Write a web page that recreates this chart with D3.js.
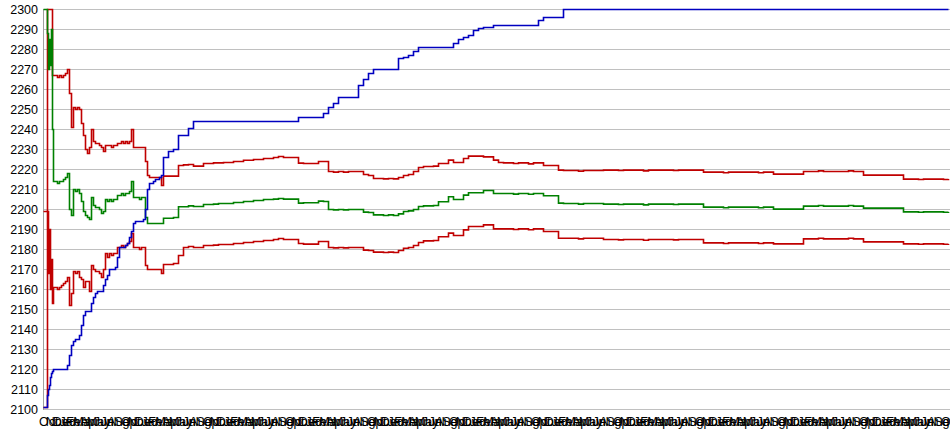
<!DOCTYPE html>
<html><head><meta charset="utf-8">
<script src="https://cdn.jsdelivr.net/npm/d3@7"></script>
<style>body{margin:0;background:#fff}svg{display:block}text{font-family:"Liberation Sans",Arial,sans-serif}</style>
</head><body><svg id="c" width="950" height="435"></svg>
<script>
// day index of each sample
const days = [0,4,5,6,7,8,9].concat(d3.range(10,120,2), d3.range(120,906,5));

const blue = [
2101,2107,2110,2112,2116,2118,2119,
2120,2120,2120,2120,2120,2120,2120,2122,2127,2132,2134,2135,2135,2137,2142,2147,2149,2149,2149,2153,2156,2158,2159,2159,2159,2162,2165,2167,2170,2170,2170,2171,2176,2181,2181,2181,2182,2183,2186,2189,2193,2194,2194,2194,2194,2195,2200,2210,2213,2213,2214,2215,2215,2216,2217,
2226,2229,2230,2237,2237,2240.5,2244,2244,2244,2244,
2244,2244,2244,2244,2244,2244,2244,2244,2244,2244,2244,2244,2244,2244,2244,2244,2244,
2246,2246,2246,2246,2246,
2248,2251,2253,2256,2256,2256,2256,2262,2265,2268,
2270,2270,2270,2270,2270,
2275.5,2276,2277,2279,
2281,2281,2281,2281,2281,2281,2281,
2283,2285,2286,2287,2289.5,2290.5,2291,2291,
2292,2292,2292,2292,2292,2292,2292,2292,2292,
2294.5,2296,2296,2296,2296,
2300,2300,2300,2300,2300,2300,2300,2300,2300,2300,2300,2300,2300,2300,2300,2300,2300,2300,2300,2300,
2300,2300,2300,2300,2300,2300,2300,2300,2300,2300,2300,2300,2300,2300,2300,2300,2300,2300,2300,2300,
2300,2300,2300,2300,2300,2300,2300,2300,2300,2300,2300,2300,2300,2300,2300,2300,2300,2300,2300,2300,
2300,2300,2300,2300,2300,2300,2300,2300,2300,2300,2300,2300,2300,2300,2300,2300,2300,2300
];

const upper = [
2199,2300,2300,2300,2300,2300,2267,
2267,2267,2266,2267,2266,2267,2268,2270,2258,2241,2251,2250,2251,2250,2243,2237,2230,2228,2231,2240,2234,2233,2233,2232,2231,2229,2232,2232,2232,2231,2232,2232,2233,2233,2234,2233,2234,2233,2234,2240,2231,2231,2231,2231,2231,2231,2224,2217,2216,2216,2216,2216,2216,2216,2212,
2216.7,2216.7,2216.7,
2222,2222.3,2222.5,2221.7,2221.7,
2223,2223,2223.3,2223.3,2223.5,2223.5,
2224,2224,2224.6,2224.6,2225,2225,2225.5,2225.5,
2226,2226.5,2226,2226,2226,
2223.2,2223,2223,2223,2224,2224,
2219,2218.7,2219,2218.7,2219,2219,2219,
2217.5,2217,2215.5,2215.5,2215.3,2215.5,2215.3,
2216,2217,2217.5,2219,2221,2221.5,2221.5,2221.7,2223,2223,2224.7,
2223.5,2223.5,2225.5,2226.7,2226.7,2226.7,2226.3,2226.3,2224.7,2223.5,
2223.3,2223.3,2223,2223.3,2223.3,2222.8,2223.3,2223.3,
2222,2222,2222,2219.7,
2219.5,2219.5,2219.5,2219.2,2219.5,2219.5,2219.5,2219.5,
2219.7,2219.7,2219.7,2219.5,2219.7,2219.7,2219.7,2219.7,2219.3,2219.7,2219.7,2219.7,2219.7,2219.7,2219.5,2219.7,2219.7,2219.7,2219.7,2219.7,
2218.7,2218.7,2218.7,2218.7,2218.4,2218.7,2218.7,2218.7,2218.7,2218.7,2218.7,2218.4,2218.7,2218.7,
2217.7,2217.7,2217.7,2217.7,2217.7,2217.7,
2219,2219,2219,2219.3,2219,2219,2219,2219,2219,2219.3,2219,2219,
2217.2,2217.2,2217.2,2217.2,2217.2,2217.2,2217.2,2217.2,
2215.2,2215.2,2215.2,2215,2215.2,2215.2,2215.2,2215.2,2215,2215.2
];

const middle = [
2300,2288,2270,2285,2272,2290,2240,
2214,2214,2213,2214,2214,2215,2216,2218,2200,2197,2210,2209,2210,2208,2204,2199,2197,2196,2195,2206,2202,2201,2201,2200,2198,2199,2205,2204,2205,2204,2205,2205,2207,2207,2208,2207,2208,2208,2209,2214,2206,2206,2206,2205,2206,2206,2196,2193,2193,2193,2193,2193,2193,2193,2193,
2195.6,2195.6,2196,
2201.4,2201.4,2201.8,2201.5,2201.5,
2202.5,2202.5,2202.7,2203,2203,2203,
2203.5,2203.5,2204,2204,2204.5,2204.5,2205,2205,
2205.2,2205.5,2205.2,2205.2,2205.2,
2203.2,2203.4,2203.4,2203.4,2204.2,2204,
2200,2199.8,2200,2199.8,2200,2200,2200,
2198.7,2198.5,2197.3,2197.3,2197,2197.3,2197,
2197.8,2199,2199.3,2200,2201.5,2201.8,2201.8,2202,2203.9,2203.9,2206.4,
2205,2205,2207.2,2208.4,2208.4,2208.4,2209.5,2209.5,2208,2208,
2208,2208,2207.7,2208,2208,2207.6,2208,2208,
2206.9,2206.9,2206.9,2203.2,
2203,2203,2203,2202.7,2203,2203,2203,2203,
2202.7,2202.7,2202.7,2202.5,2202.7,2202.7,2202.7,2202.7,2202.3,2202.7,2202.7,2202.7,2202.7,2202.7,2202.5,2202.7,2202.7,2202.7,2202.7,2202.7,
2201.2,2201.2,2201.2,2201.2,2200.9,2201.2,2201.2,2201.2,2201.2,2201.2,2201.2,2200.9,2201.2,2201.2,
2200.2,2200.2,2200.2,2200.2,2200.2,2200.2,
2201.7,2201.7,2201.7,2202,2201.7,2201.7,2201.7,2201.7,2201.7,2202,2201.7,2201.7,
2200.7,2200.7,2200.7,2200.7,2200.7,2200.7,2200.7,2200.7,
2198.8,2198.8,2198.8,2198.6,2198.8,2198.8,2198.8,2198.8,2198.6,2198.8
];

const lower = [
2101,2199,2168,2190,2160,2175,2153,
2161,2161,2160,2161,2162,2163,2164,2166,2152,2158,2169,2168,2169,2166,2165,2161,2164,2164,2159,2172,2170,2169,2169,2168,2166,2170,2178,2176,2178,2177,2178,2178,2181,2181,2182,2181,2182,2183,2184,2188,2181,2181,2181,2180,2181,2181,2172,2170,2170,2170,2170,2170,2170,2170,2168,
2172.5,2172.5,2173,
2177,2181,2181.5,2181,2181,
2182,2182,2182.2,2182.5,2182.5,2182.5,
2183,2183,2183.5,2183.5,2184,2184,2184.5,2184.5,
2185,2185.5,2185,2185,2185,
2183,2182.7,2182.7,2182.7,2184,2184,
2181,2180.8,2181,2180.8,2181,2181,2181,
2179.7,2179.5,2178.7,2178.7,2178.5,2178.7,2178.5,
2179.5,2180.6,2181,2182,2183.5,2184.3,2184.3,2184.5,2186.4,2186.4,2188.2,
2187,2187,2189.8,2191.5,2191.5,2191.5,2192.3,2192.3,2190.3,2190.3,
2190.3,2190.3,2190,2190.3,2190.3,2189.9,2190.3,2190.3,
2189,2189,2189,2185.6,
2185.6,2185.6,2185.6,2185.3,2185.6,2185.6,2185.6,2185.6,
2185,2185,2185,2184.8,2185,2185,2185,2185,2184.6,2185,2185,2185,2185,2185,2184.8,2185,2185,2185,2185,2185,
2183.3,2183.3,2183.3,2183.3,2183,2183.3,2183.3,2183.3,2183.3,2183.3,2183.3,2183,2183.3,2183.3,
2182.8,2182.8,2182.8,2182.8,2182.8,2182.8,
2185.3,2185.3,2185.3,2185.6,2185.3,2185.3,2185.3,2185.3,2185.3,2185.6,2185.3,2185.3,
2183.8,2183.8,2183.8,2183.8,2183.8,2183.8,2183.8,2183.8,
2182.8,2182.8,2182.8,2182.6,2182.8,2182.8,2182.8,2182.8,2182.6,2182.8
];

const yTicks = [2100,2110,2120,2130,2140,2150,2160,2170,2180,2190,2200,2210,2220,2230,2240,2250,2260,2270,2280,2290,2300];
const monthNames = ["Oct","Nov","Dec","Jan","Feb","Mar","Apr","May","Jun","Jul","Aug","Sep"];
const xLabelCount = 133;
const xLabels = d3.range(xLabelCount).map(i => monthNames[i % 12]);

const svg = d3.select("#c");
const x = d3.scaleLinear().domain([0, 907]).range([43.5, 950.5]);
const y = d3.scaleLinear().domain([2100, 2300]).range([409.5, 9.5]);
const lx = d3.scaleLinear().domain([0, xLabelCount - 1]).range([39, 941]);

svg.append("rect").attr("width", 950).attr("height", 435).attr("fill", "#fff");

// grid
svg.append("g").selectAll("line").data(yTicks).join("line")
  .attr("x1", 43).attr("x2", 950)
  .attr("y1", d => Math.round(y(d) - 0.5) + 0.5).attr("y2", d => Math.round(y(d) - 0.5) + 0.5)
  .attr("stroke", "#c0c0c0").attr("stroke-width", 1);
svg.append("line").attr("x1", 43.5).attr("x2", 43.5).attr("y1", 9).attr("y2", 410)
  .attr("stroke", "#a0a0a0");

// y labels
svg.append("g").selectAll("text").data(yTicks).join("text")
  .attr("x", 38).attr("y", d => y(d)).attr("dy", "0.36em")
  .attr("text-anchor", "end").attr("font-size", 12.5).attr("fill", "#000")
  .text(d => d);

// x labels
svg.append("g").selectAll("text").data(xLabels).join("text")
  .attr("x", (d, i) => lx(i)).attr("y", 426)
  .attr("font-size", 12.5).attr("fill", "#000")
  .text(d => d);

const line = vals => d3.line().curve(d3.curveStepAfter)
  .x((d, i) => x(days[i])).y(d => y(d))(vals);

const series = [
  {vals: upper, color: "#c00000"},
  {vals: lower, color: "#c00000"},
  {vals: middle, color: "#008000"},
  {vals: blue, color: "#0000c0"}
];
svg.append("g").selectAll("path").data(series).join("path")
  .attr("d", s => line(s.vals))
  .attr("fill", "none").attr("stroke", s => s.color)
  .attr("stroke-width", 1.6);
</script></body></html>
